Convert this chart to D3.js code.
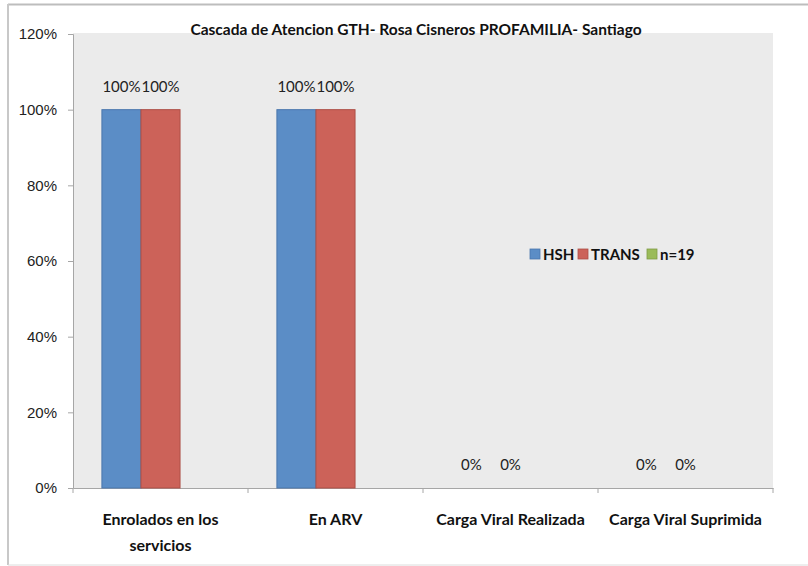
<!DOCTYPE html>
<html>
<head>
<meta charset="utf-8">
<script src="https://cdn.jsdelivr.net/npm/d3@7"></script>
<style>
  body { margin: 0; background: #fff; }
  svg { display: block; font-family: Lato, "DejaVu Sans Condensed", sans-serif; }
</style>
</head>
<body>
<svg id="chart"></svg>
<script>
// cascade chart, two groups + empty n=19 series

var width = 808;
var height = 566;

var margin = { top: 34, right: 35, bottom: 78, left: 73 };

// data
var categories = ["Enrolados en los servicios", "En ARV", "Carga Viral Realizada", "Carga Viral Suprimida"];
var catLines = [["Enrolados en los", "servicios"], ["En ARV"], ["Carga Viral Realizada"], ["Carga Viral Suprimida"]];
var seriesNames = ["HSH", "TRANS", "n=19"];
var hsh = [100, 100, 0, 0];
var trans = [100, 100, 0, 0];
var n19 = [null, null, null, null];
var yTicks = [0, 20, 40, 60, 80, 100, 120];
var colors = ["#5b8dc6", "#cc6259", "#9bbb59"];
var strokes = ["#4a77ad", "#ad4f47", "#7f9c46"];

var allSeries = [hsh, trans, n19];

var svg = d3.select("#chart")
    .attr("width", width)
    .attr("height", height);

// outer frame
svg.append("line").attr("x1", 8).attr("x2", width).attr("y1", 4.5).attr("y2", 4.5)
    .style("stroke", "#bdbdbd").style("stroke-width", 2);
svg.append("line").attr("x1", 8).attr("x2", 8).attr("y1", 4).attr("y2", 565)
    .style("stroke", "#c8c8c8").style("stroke-width", 2);
svg.append("line").attr("x1", 8).attr("x2", width).attr("y1", 565).attr("y2", 565)
    .style("stroke", "#dcdcdc").style("stroke-width", 1);

// scales
var x = d3.scaleBand()
    .domain(categories)
    .range([margin.left, width - margin.right])
    .paddingInner(0)
    .paddingOuter(0);

var xInner = d3.scaleBand()
    .domain(seriesNames)
    .range([0, x.bandwidth()])
    .paddingInner(0)
    .paddingOuter(0.74);

var y = d3.scaleLinear()
    .domain([0, 120])
    .range([height - margin.bottom, margin.top]);

// plot background
svg.append("rect")
    .attr("x", margin.left)
    .attr("y", margin.top - 1)
    .attr("width", width - margin.right - margin.left)
    .attr("height", height - margin.bottom - margin.top + 1)
    .style("fill", "#ebebeb");

// y axis
var yAxis = svg.append("g")
    .attr("transform", "translate(" + margin.left + ",0)")
    .call(d3.axisLeft(y).tickValues(yTicks).tickSize(5).tickPadding(11).tickFormat(d => d + "%"));
yAxis.select(".domain").style("stroke", "#a6a6a6");
yAxis.selectAll(".tick line").style("stroke", "#a6a6a6");
yAxis.selectAll(".tick text")
    .style("font-size", "15px")
    .style("fill", "#222")
    .style("font-family", "inherit");

// x axis
var xAxis = svg.append("g")
    .attr("transform", "translate(0," + y(0) + ")")
    .call(d3.axisBottom(x).tickValues([]).tickSizeOuter(0));
xAxis.select(".domain").style("stroke", "#a6a6a6");
// category separators
xAxis.selectAll("line.sep")
    .data(d3.range(categories.length + 1))
    .enter()
    .append("line")
    .attr("class", "sep")
    .attr("x1", i => i < categories.length ? x(categories[i]) : x(categories[i - 1]) + x.bandwidth())
    .attr("x2", i => i < categories.length ? x(categories[i]) : x(categories[i - 1]) + x.bandwidth())
    .attr("y1", 0)
    .attr("y2", 5)
    .style("stroke", "#a6a6a6");

// category labels
categories.forEach(function(c, i) {
    var t = svg.append("text")
        .attr("x", x(c) + x.bandwidth() / 2)
        .attr("y", 525)
        .attr("text-anchor", "middle")
        .style("font-size", "16px")
        .style("font-weight", "bold")
        .style("fill", "#111");
    catLines[i].forEach(function(line, j) {
        t.append("tspan")
            .attr("x", x(c) + x.bandwidth() / 2)
            .attr("dy", j === 0 ? 0 : 26)
            .text(line);
    });
});

// bars
allSeries.forEach(function(vals, s) {
    var g = svg.append("g");
    g.selectAll("rect")
        .data(vals.map((v, i) => ({ cat: categories[i], v: v })).filter(d => d.v !== null))
        .enter()
        .append("rect")
        .attr("x", d => x(d.cat) + xInner(seriesNames[s]))
        .attr("y", d => y(d.v))
        .attr("width", xInner.bandwidth())
        .attr("height", d => y(0) - y(d.v))
        .style("fill", colors[s])
        .style("stroke", strokes[s])
        .style("stroke-width", 1);

    g.selectAll("text")
        .data(vals.map((v, i) => ({ cat: categories[i], v: v })).filter(d => d.v !== null))
        .enter()
        .append("text")
        .attr("x", d => x(d.cat) + xInner(seriesNames[s]) + xInner.bandwidth() / 2)
        .attr("y", d => y(d.v) - 18)
        .attr("text-anchor", "middle")
        .style("font-size", "15px")
        .style("fill", "#222")
        .text(d => d.v + "%");
});

// title
svg.append("text")
    .attr("x", 416)
    .attr("y", 35)
    .attr("text-anchor", "middle")
    .style("font-size", "15.5px")
    .style("font-weight", "bold")
    .style("fill", "#111")
    .text("Cascada de Atencion GTH- Rosa Cisneros PROFAMILIA- Santiago");

// legend
var legX = [530, 578, 647];
var legend = svg.append("g");
seriesNames.forEach(function(name, i) {
    legend.append("rect")
        .attr("x", legX[i])
        .attr("y", 249)
        .attr("width", 10)
        .attr("height", 10)
        .style("fill", colors[i])
        .style("stroke", strokes[i])
        .style("stroke-width", 0.8);
    legend.append("text")
        .attr("x", legX[i] + 13)
        .attr("y", 260)
        .style("font-size", "15px")
        .style("font-weight", "bold")
        .style("fill", "#111")
        .text(name);
});
</script>
</body>
</html>
